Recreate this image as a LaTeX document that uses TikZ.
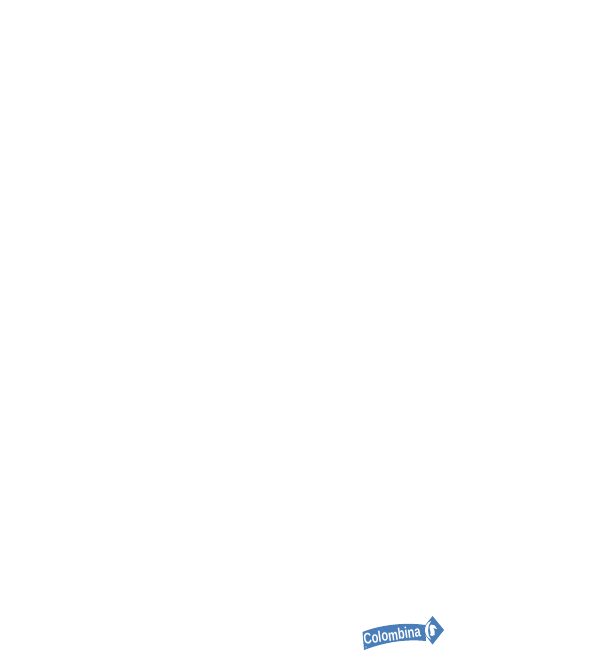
\documentclass[tikz,border=0pt]{standalone}
\usepackage{fontspec}
\setmainfont{Liberation Sans}
\definecolor{logoblue}{HTML}{4A7EB8}
\tikzset{
    logotext/.style={text=white, font=\bfseries\fontsize{8.8pt}{8.8pt}\selectfont, inner sep=0pt, rotate=8, xscale=0.72}
}
\begin{document}
\begin{tikzpicture}[x=0.02cm, y=-0.02cm]
    \useasboundingbox (0,0) rectangle (600,668);
    % banda
    \fill[logoblue] (362.5,632) .. controls (380,625) and (405,622) .. (425,625)
        -- (426,641) .. controls (405,639) and (385,642) .. (364,650) -- cycle;
    % rombo
    \fill[logoblue] (432.5,616) -- (444,630) -- (432.5,644.5) -- (421.5,630) -- cycle;
    % media luna
    \fill[white] (431,621) .. controls (423,624) and (423,636) .. (431,639.5)
        .. controls (427,635) and (427,626) .. (431,621) -- cycle;
    % globo
    \fill[white] (431,624.5) .. controls (434,624) and (436,626) .. (437,629)
        .. controls (435,629) and (434,628) .. (433,628)
        .. controls (434,630) and (436,632) .. (434.5,635)
        .. controls (433,636.5) and (431,636) .. (430,635)
        .. controls (432,633) and (429,630) .. (429.5,627) -- cycle;
    % texto
    \node[logotext] (colombina) at (392,635) {Colombina};
    \fill[white] (366,647) circle (0.7);
\end{tikzpicture}
\end{document}
